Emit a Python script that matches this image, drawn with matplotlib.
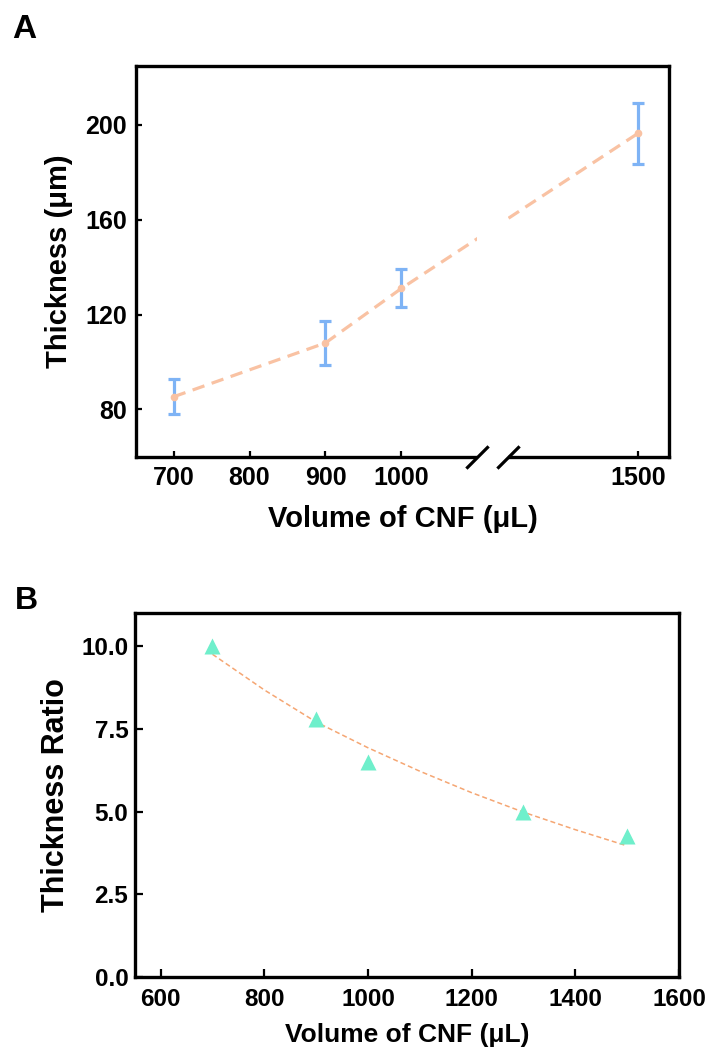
import numpy as np
import matplotlib
matplotlib.use("Agg")
import matplotlib.pyplot as plt
from matplotlib.patches import Rectangle

plt.rcParams['font.family'] = ['Liberation Sans', 'DejaVu Sans']
plt.rcParams['font.weight'] = 'bold'
plt.rcParams['axes.labelweight'] = 'bold'
plt.rcParams['lines.scale_dashes'] = False

# Panel A: thickness vs CNF volume
vol_a = [700, 900, 1000, 1500]
thick = [85.3, 108.0, 131.0, 196.5]
thick_err = [7.4, 9.3, 8.0, 12.8]
xticks_a = [700, 800, 900, 1000, 1500]
yticks_a = [80, 120, 160, 200]

# Panel B: thickness ratio vs CNF volume
vol_b = [700, 900, 1000, 1300, 1500]
ratio = [10.0, 7.8, 6.5, 5.0, 4.25]
# fitted curve
fit_x = [700, 800, 900, 1000, 1100, 1200, 1300, 1400, 1500]
fit_y = [9.76, 8.68, 7.71, 6.93, 6.22, 5.57, 4.98, 4.45, 3.96]
xticks_b = [600, 800, 1000, 1200, 1400, 1600]
yticks_b = [0.0, 2.5, 5.0, 7.5, 10.0]

# broken x axis: 1100..1400 squeezed into a small gap
BRK0, BRK1 = 1100, 1400
GAP = 41.0
K = 1.71


def fwd(x):
    x = np.asarray(x, dtype=float)
    return np.where(x <= BRK0, x,
                    np.where(x < BRK1, BRK0 + (x - BRK0) * GAP / (BRK1 - BRK0),
                             BRK0 + GAP + (x - BRK1) * K))


def inv(y):
    y = np.asarray(y, dtype=float)
    return np.where(y <= BRK0, y,
                    np.where(y < BRK0 + GAP, BRK0 + (y - BRK0) * (BRK1 - BRK0) / GAP,
                             BRK1 + (y - BRK0 - GAP) / K))


W, H = 712, 1053
fig = plt.figure(figsize=(W / 100, H / 100), dpi=100)


def px_axes(l, t, r, b):
    return fig.add_axes([l / W, 1 - b / H, (r - l) / W, (b - t) / H])


line_c = '#F9C2A3'
err_c = '#7EB3F5'
tri_c = '#6FEFCB'
fit_c = '#F5A673'

# ---- panel A ----
ax1 = px_axes(135.7, 65.7, 669.3, 456.7)
ax1.set_xscale('function', functions=(fwd, inv))
ax1.errorbar(vol_a, thick, yerr=thick_err, fmt='none', ecolor=err_c,
             elinewidth=2.3, capsize=4.5, capthick=2.3, zorder=2)
ax1.plot(vol_a, thick, color=line_c, lw=2.3, linestyle=(0, (9, 5.5)),
         marker='o', ms=4.5, zorder=2.2)
ax1.set_xlim(650, 1524)
ax1.set_ylim(60, 225)
ax1.set_xticks(xticks_a)
ax1.set_xticklabels([str(v) for v in xticks_a])
ax1.set_yticks(yticks_a)
ax1.minorticks_off()
ax1.tick_params(direction='in', length=4, width=1.6, labelsize=18)
ax1.tick_params(axis='x', pad=6.5)
ax1.tick_params(axis='y', pad=6.5)
ax1.set_xlabel('Volume of CNF (μL)', fontsize=21)
ax1.set_ylabel('Thickness (μm)', fontsize=21)
ax1.xaxis.set_label_coords(0.5, -0.1235)
ax1.yaxis.set_label_coords(-0.1175, 0.5)

# hide the axis and line inside the break
ax1.add_patch(Rectangle((BRK0, -0.03), BRK1 - BRK0, 1.015,
                        transform=ax1.get_xaxis_transform(), facecolor='white',
                        edgecolor='none', zorder=3, clip_on=False))
ax1.plot([BRK0, BRK1], [0, 0], transform=ax1.get_xaxis_transform(),
         marker=[(-1, -1), (1, 1)], ms=16, mew=2.3, mec='black', ls='none',
         clip_on=False, zorder=5)

# ---- panel B ----
ax2 = px_axes(134.7, 613.3, 679.0, 976.7)
ax2.plot(fit_x, fit_y, color=fit_c, lw=1.1, linestyle=(0, (3.6, 2.2)), zorder=2)
ax2.plot(vol_b, ratio, ls='none', marker='^', ms=11.5, color=tri_c,
         mec='none', zorder=3)
ax2.set_xlim(550, 1600)
ax2.set_ylim(0, 11)
ax2.set_xticks(xticks_b)
ax2.set_yticks(yticks_b)
ax2.set_yticklabels(['%.1f' % v for v in yticks_b])
ax2.tick_params(direction='in', length=5.8, width=1.6, labelsize=17.5)
ax2.tick_params(axis='x', pad=8)
ax2.tick_params(axis='y', pad=4.6)
ax2.set_xlabel('Volume of CNF (μL)', fontsize=19)
ax2.set_ylabel('Thickness Ratio', fontsize=22)
ax2.xaxis.set_label_coords(0.5, -0.127)
ax2.yaxis.set_label_coords(-0.117, 0.5)

for ax in (ax1, ax2):
    for s in ax.spines.values():
        s.set_linewidth(2.4)

fig.text(12 / W, 1 - 38 / H, 'A', fontsize=24, fontweight='bold', va='baseline')
fig.text(15 / W, 1 - 609 / H, 'B', fontsize=23, fontweight='bold', va='baseline')

fig.savefig('out.png', dpi=100)
